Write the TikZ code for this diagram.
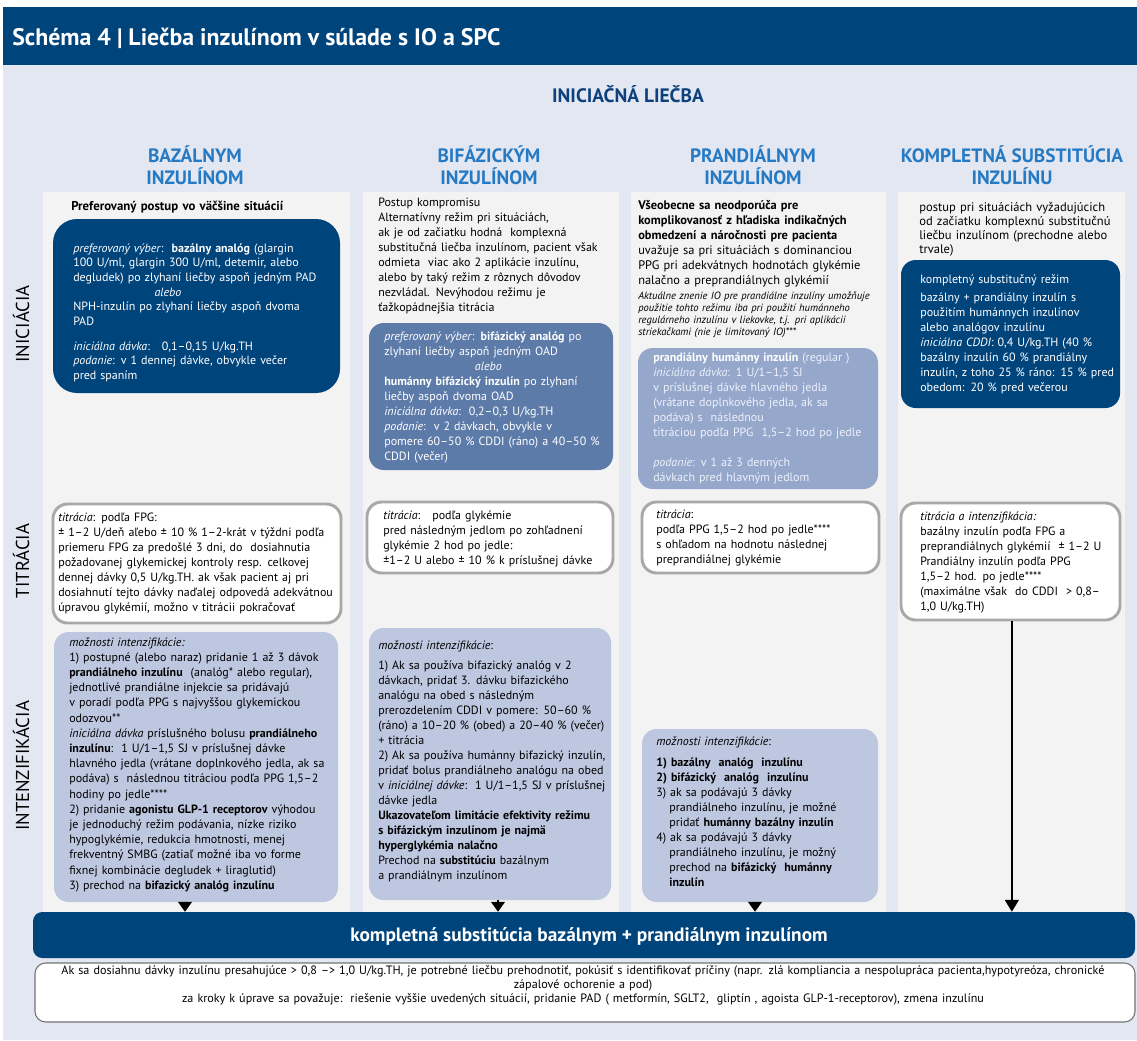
\documentclass[tikz,border=0pt]{standalone}
\usepackage{fontspec}
\setmainfont{PT Sans}
\usetikzlibrary{arrows.meta,fit}
\definecolor{hdr}{RGB}{0,68,124}
\definecolor{bgl}{RGB}{227,231,242}
\definecolor{pnl}{RGB}{243,243,243}
\definecolor{colblue}{RGB}{38,122,196}
\definecolor{navy}{RGB}{12,65,125}
\definecolor{boxtwo}{RGB}{93,123,169}
\definecolor{boxthree}{RGB}{149,168,204}
\definecolor{intens}{RGB}{190,199,224}
\definecolor{tborder}{RGB}{168,168,168}
\definecolor{lightw}{RGB}{238,241,250}
\tikzset{
  txt/.style={inner sep=0pt, anchor=base west, align=left, text width=330pt, font=\fontsize{9}{11.25}\selectfont},
  colhead/.style={inner sep=0pt, align=center, text=colblue, font=\bfseries\fontsize{14.5}{16.5}\selectfont},
  rowlab/.style={inner sep=0pt, rotate=90, font=\fontsize{14}{16}\selectfont},
  darkbox/.style={fill=hdr, inner sep=0pt},
  titrbox/.style={fill=white, draw=tborder, line width=2.2pt, rounded corners=11pt, inner sep=0pt},
  intbox/.style={fill=intens, rounded corners=11pt, inner sep=0pt},
  tri/.style={line width=1pt, -{Triangle[width=10.5pt,length=7.5pt]}},
}
\begin{document}
\begin{tikzpicture}[x=0.75pt,y=-0.75pt]
\useasboundingbox (0,0) rectangle (1137,1040);
\fill[white] (0,0) rectangle (1137,1040);
\fill[hdr] (3,7) rectangle (1137,65);
\fill[bgl] (3,65) rectangle (1137,1040);
\node[anchor=base west, inner sep=0pt, text=white, font=\bfseries\fontsize{17.9}{20}\selectfont] (title) at (12,45) {Schéma 4 | Liečba inzulínom v súlade s IO a SPC};
\node[inner sep=0pt, text=navy, font=\bfseries\fontsize{14.6}{16}\selectfont] (init) at (628,94) {INICIAČNÁ LIEČBA};
% panels
\fill[pnl] (43,192) rectangle (350,912);
\fill[pnl] (363,192) rectangle (619,912);
\fill[pnl] (631,192) rectangle (886,912);
\fill[pnl] (898,192) rectangle (1125,912);
% column heads
\node[colhead] (h1) at (195,165) {BAZÁLNYM\\INZULÍNOM};
\node[colhead] (h2) at (489,165) {BIFÁZICKÝM\\INZULÍNOM};
\node[colhead] (h3) at (753,165) {PRANDIÁLNYM\\INZULÍNOM};
\node[colhead] (h4) at (1012,165) {KOMPLETNÁ SUBSTITÚCIA\\INZULÍNU};
% row labels
\node[rowlab] (r1) at (21,324) {INICIÁCIA};
\node[rowlab] (r2) at (21,561) {TITRÁCIA};
\node[rowlab] (r3) at (21,766) {INTENZIFIKÁCIA};
% boxes
\node[darkbox, rounded corners=18pt, fit={(53,219) (340,393)}] (c1d) {};
\node[titrbox, fit={(53,504) (341,623)}] (c1t) {};
\node[intbox, fit={(54,632) (338,902)}] (c1i) {};
\node[fill=boxtwo, rounded corners=11pt, inner sep=0pt, fit={(369,323) (613,470)}] (c2b) {};
\node[titrbox, fit={(367,502) (613,573)}] (c2t) {};
\node[intbox, fit={(369,628) (611,900)}] (c2i) {};
\node[fill=boxthree, rounded corners=11pt, inner sep=0pt, fit={(638,348) (878,489)}] (c3b) {};
\node[titrbox, fit={(642,502) (879,573)}] (c3t) {};
\node[intbox, fit={(642,729) (878,902)}] (c3i) {};
\node[darkbox, rounded corners=11pt, fit={(901,260) (1120,408)}] (c4d) {};
\node[titrbox, fit={(901,503) (1120,620)}] (c4t) {};
\node[darkbox, rounded corners=7pt, fit={(33,912) (1135,958)}] (bar) {};
\node[fill=white, draw=black!55, line width=0.8pt, rounded corners=8pt, inner sep=0pt, fit={(35,963) (1135,1022)}] (foot) {};
% column 1 texts
\node[txt, font=\bfseries\fontsize{9.6}{11.25}\selectfont] (c1a) at (71,210) {Preferovaný postup vo väčšine situácií};
\node[txt, text=white, font=\fontsize{9}{11}\selectfont] (c1dt) at (73,252) {\textit{preferovaný výber}:\ \ \textbf{bazálny analóg} (glargin\\
100 U/ml, glargin 300 U/ml, detemir, alebo\\
degludek) po zlyhaní liečby aspoň jedným PAD\\
\hspace*{61pt}\textit{alebo}\\
NPH-inzulín po zlyhaní liečby aspoň dvoma\\
PAD\\[7.5pt]
\textit{iniciálna dávka}:\ \ \ 0,1–0,15 U/kg.TH\\
\textit{podanie}: v 1 dennej dávke, obvykle večer\\
pred spaním};
\node[txt] (c1tt) at (58,521) {\textit{titrácia}: podľa FPG:\\
± 1–2 U/deň aľebo ± 10 \% 1–2-krát v týždni podľa\\
priemeru FPG za predošlé 3 dni, do\ \ dosiahnutia\\
požadovanej glykemickej kontroly resp. celkovej\\
dennej dávky 0,5 U/kg.TH. ak však pacient aj pri\\
dosiahnutí tejto dávky naďalej odpovedá adekvátnou\\
úpravou glykémií, možno v titrácii pokračovať};
\node[txt, font=\fontsize{9}{11.4}\selectfont] (c1it) at (69,646) {\textit{možnosti intenzifikácie:}\\
1) postupné (alebo naraz) pridanie 1 až 3 dávok\\
\textbf{prandiálneho inzulínu}\ \ (analóg* alebo regular),\\
jednotlivé prandiálne injekcie sa pridávajú\\
v poradí podľa PPG s najvyššou glykemickou\\
odozvou**\\
\textit{iniciálna dávka} príslušného bolusu \textbf{prandiálneho}\\
\textbf{inzulínu}:\ \ 1 U/1–1,5 SJ v príslušnej dávke\\
hlavného jedla (vrátane doplnkového jedla, ak sa\\
podáva) s\ \ následnou titráciou podľa PPG 1,5–2\\
hodiny po jedle****\\
2) pridanie \textbf{agonistu GLP-1 receptorov} výhodou\\
je jednoduchý režim podávania, nízke riziko\\
hypoglykémie, redukcia hmotnosti, menej\\
frekventný SMBG (zatiaľ možné iba vo forme\\
fixnej kombinácie degludek + liraglutid)\\
3) prechod na \textbf{bifazický analóg inzulínu}};
% column 2 texts
\node[txt] (c2a) at (378,206) {Postup kompromisu\\
Alternatívny režim pri situáciách,\\
ak je od začiatku hodná\ \ komplexná\\
substitučná liečba inzulínom, pacient však\\
odmieta\ \ viac ako 2 aplikácie inzulínu,\\
alebo by taký režim z rôznych dôvodov\\
nezvládal. Nevýhodou režimu je\\
ťažkopádnejšia titrácia};
\node[txt, text=white] (c2bt) at (384,340) {\textit{preferovaný výber}: \textbf{bifázický analóg} po\\
zlyhaní liečby aspoň jedným OAD\\
\hspace*{68pt}\textit{alebo}\\
\textbf{humánny bifázický inzulín} po zlyhaní\\
liečby aspoň dvoma OAD\\
\textit{iniciálna dávka}:\ \ 0,2–0,3 U/kg.TH\\
\textit{podanie}:\ \ v 2 dávkach, obvykle v\\
pomere 60–50 \% CDDI (ráno) a 40–50 \%\\
CDDI (večer)};
\node[txt] (c2tt) at (383,519) {\textit{titrácia}:\ \ \ podľa glykémie\\
pred následným jedlom po zohľadnení\\
glykémie 2 hod po jedle:\\
±1–2 U alebo ± 10 \% k príslušnej dávke};
\node[txt] (c2it) at (378,649) {\textit{možnosti intenzifikácie}:\\[3.75pt]
1) Ak sa používa bifazický analóg v 2\\
dávkach, pridať 3. dávku bifazického\\
analógu na obed s následným\\
prerozdelením CDDI v pomere: 50–60 \%\\
(ráno) a 10–20 \% (obed) a 20–40 \% (večer)\\
+ titrácia\\
2) Ak sa používa humánny bifazický inzulín,\\
pridať bolus prandiálneho analógu na obed\\
v \textit{iniciálnej dávke}:\ \ 1 U/1–1,5 SJ v príslušnej\\
dávke jedla\\
\textbf{Ukazovateľom limitácie efektivity režimu}\\
\textbf{s bifázickým inzulínom je najmä}\\
\textbf{hyperglykémia nalačno}\\
Prechod na \textbf{substitúciu} bazálnym\\
a prandiálnym inzulínom};
% column 3 texts
\node[txt, font=\fontsize{9.3}{11.25}\selectfont] (c3a) at (638,209) {\textbf{Všeobecne sa neodporúča pre}\\
\textbf{komplikovanosť z hľadiska indikačných}\\
\textbf{obmedzení a náročnosti pre pacienta}\\
uvažuje sa pri situáciách s dominanciou\\
PPG pri adekvátnych hodnotách glykémie\\
nalačno a preprandiálnych glykémií};
\node[txt, font=\itshape\fontsize{7.9}{9}\selectfont] (c3b2) at (638,299) {Aktuálne znenie IO pre prandiálne inzulíny umožňuje\\
použitie tohto režimu iba pri použití humánneho\\
regulárneho inzulínu v liekovke, t.j. pri aplikácii\\
striekačkami (nie je limitovaný IO)***};
\node[txt, text=lightw] (c3bt) at (653,361) {\textcolor{white}{\textbf{prandiálny humánny inzulín}} (regular )\\
\textit{iniciálna dávka}: 1 U/1–1,5 SJ\\
v príslušnej dávke hlavného jedla\\
(vrátane doplnkového jedla, ak sa\\
podáva) s\ \ následnou\\
titráciou podľa PPG\ \ 1,5–2 hod po jedle\\
\mbox{}\\
\textit{podanie}: v 1 až 3 denných\\
dávkach pred hlavným jedlom};
\node[txt] (c3tt) at (656,518) {\textit{titrácia}:\\
podľa PPG 1,5–2 hod po jedle****\\
s ohľadom na hodnotu následnej\\
preprandiálnej glykémie};
\node[txt] (c3it) at (656,745) {\textit{možnosti intenzifikácie}:\\[4.5pt]
\textbf{1) bazálny\ \ analóg\ \ inzulínu}\\
\textbf{2) bifázický\ \ analóg\ \ inzulínu}\\
3) ak sa podávajú 3 dávky\\
\hspace*{9.75pt}prandiálneho inzulínu, je možné\\
\hspace*{9.75pt}pridať \textbf{humánny bazálny inzulín}\\
4) ak sa podávajú 3 dávky\\
\hspace*{9.75pt}prandiálneho inzulínu, je možný\\
\hspace*{9.75pt}prechod na \textbf{bifázický\ \ humánny}\\
\hspace*{9.75pt}\textbf{inzulín}};
% column 4 texts
\node[txt, font=\fontsize{9.4}{10.5}\selectfont] (c4a) at (919,211) {postup pri situáciách vyžadujúcich\\
od začiatku komplexnú substitučnú\\
liečbu inzulínom (prechodne alebo\\
trvale)};
\node[txt, text=white] (c4dt) at (920,283) {kompletný substitučný režim\\[2.25pt]
bazálny + prandiálny inzulín s\\
použitím humánnych inzulínov\\
alebo analógov inzulínu\\
\textit{iniciálna CDDI}: 0,4 U/kg.TH (40 \%\\
bazálny inzulín 60 \% prandiálny\\
inzulín, z toho 25 \% ráno: 15 \% pred\\
obedom: 20 \% pred večerou};
\node[txt] (c4tt) at (920,520) {\textit{titrácia a intenzifikácia:}\\
bazálny inzulín podľa FPG a\\
preprandiálnych glykémií\ \ ± 1–2 U\\
Prandiálny inzulín podľa PPG\\
1,5–2 hod. po jedle****\\
(maximálne však\ \ do CDDI\ \ > 0,8–\\
1,0 U/kg.TH)};
% bar and footer texts
\node[inner sep=0pt, text=white, font=\bfseries\fontsize{14.5}{16}\selectfont] (bart) at (589,936) {kompletná substitúcia bazálnym + prandiálnym inzulínom};
\node[inner sep=0pt, anchor=base, align=center, text width=840pt, font=\fontsize{9.1}{10.5}\selectfont] (foott) at (583,974) {Ak sa dosiahnu dávky inzulínu presahujúce > 0,8 –> 1,0 U/kg.TH, je potrebné liečbu prehodnotiť, pokúsiť s identifikovať príčiny (napr. zlá kompliancia a nespolupráca pacienta,hypotyreóza, chronické\\
zápalové ochorenie a pod)\\
za kroky k úprave sa považuje:\ \ riešenie vyššie uvedených situácií, pridanie PAD ( metformín, SGLT2,\ \ gliptín , agoista GLP-1-receptorov), zmena inzulínu};
% arrows
\draw[tri] ([xshift=-8.25pt]c1i.south) -- ([xshift=-8.25pt]c1i.south |- bar.north);
\draw[tri] ([xshift=6pt]c2i.south) -- ([xshift=6pt]c2i.south |- bar.north);
\draw[tri] ([xshift=-3.75pt]c3i.south) -- ([xshift=-3.75pt]c3i.south |- bar.north);
\draw[line width=1.3pt, -{Triangle[width=10.5pt,length=9pt]}] ([xshift=1pt]c4t.south) -- ([xshift=1pt]c4t.south |- bar.north);
\end{tikzpicture}
\end{document}
